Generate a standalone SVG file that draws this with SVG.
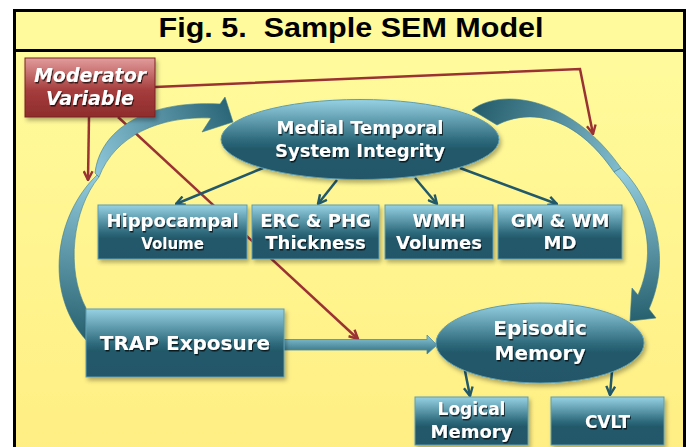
<svg xmlns="http://www.w3.org/2000/svg" width="687" height="447" viewBox="0 0 687 447">
<defs>
<linearGradient id="gBody" x1="0" y1="0" x2="0" y2="1"><stop offset="0" stop-color="#FFFC9F"/><stop offset="1" stop-color="#FFEE82"/></linearGradient>
<linearGradient id="gNode" x1="0" y1="0" x2="0" y2="1"><stop offset="0" stop-color="#96D2E4"/><stop offset="0.5" stop-color="#2F6C7E"/><stop offset="0.62" stop-color="#22596A"/><stop offset="1" stop-color="#215768"/></linearGradient>
<linearGradient id="gRed" x1="0" y1="0" x2="0" y2="1"><stop offset="0" stop-color="#E39C9C"/><stop offset="0.55" stop-color="#A53D3D"/><stop offset="1" stop-color="#8E2C2C"/></linearGradient>
<linearGradient id="gShaft" x1="0" y1="0" x2="0" y2="1"><stop offset="0" stop-color="#8ECBDD"/><stop offset="1" stop-color="#2D6A7C"/></linearGradient>
<linearGradient id="gLL" gradientUnits="userSpaceOnUse" x1="97" y1="175" x2="80" y2="340"><stop offset="0" stop-color="#92CCDD"/><stop offset="1" stop-color="#27606F"/></linearGradient>
<linearGradient id="gLU" gradientUnits="userSpaceOnUse" x1="97" y1="175" x2="230" y2="110"><stop offset="0" stop-color="#8CC6D8"/><stop offset="1" stop-color="#2B6678"/></linearGradient>
<linearGradient id="gRU" gradientUnits="userSpaceOnUse" x1="480" y1="110" x2="620" y2="168"><stop offset="0" stop-color="#28606F"/><stop offset="1" stop-color="#80BBCD"/></linearGradient>
<linearGradient id="gRL" gradientUnits="userSpaceOnUse" x1="620" y1="175" x2="640" y2="320"><stop offset="0" stop-color="#92CCDD"/><stop offset="1" stop-color="#27606F"/></linearGradient>
<filter id="ts" x="-10%" y="-20%" width="120%" height="150%"><feDropShadow dx="1" dy="1.5" stdDeviation="0.6" flood-color="#000" flood-opacity="0.7"/></filter>
<filter id="sh" x="-10%" y="-15%" width="125%" height="140%"><feDropShadow dx="2" dy="3" stdDeviation="2" flood-color="#000" flood-opacity="0.3"/></filter>
<marker id="arR" viewBox="0 0 10 10" refX="9" refY="5" markerWidth="11" markerHeight="11" markerUnits="userSpaceOnUse" orient="auto"><path d="M1,1 L9,5 L1,9" fill="none" stroke="#9A3233" stroke-width="2.2"/></marker>
<marker id="arT" viewBox="0 0 10 10" refX="9" refY="5" markerWidth="11" markerHeight="11" markerUnits="userSpaceOnUse" orient="auto"><path d="M1,1 L9,5 L1,9" fill="none" stroke="#22596A" stroke-width="2.2"/></marker>
</defs>
<style>
.red{fill:none;stroke:#9A3233;stroke-width:2.5;marker-end:url(#arR)}
.teal{fill:none;stroke:#22596A;stroke-width:2.5;marker-end:url(#arT)}
.node{fill:url(#gNode);stroke:#5E9DB1;stroke-width:1;filter:url(#sh)}
.t{font-family:"DejaVu Sans",sans-serif;font-weight:bold;fill:#fff;text-anchor:middle;filter:url(#ts)}
</style>
<rect width="687" height="447" fill="#fff"/>
<rect x="14.5" y="10.5" width="670" height="460" fill="url(#gBody)"/>
<rect x="14.5" y="10.5" width="670" height="40" fill="#FFFB9C"/>
<rect x="14.5" y="10.5" width="670" height="460" fill="none" stroke="#000" stroke-width="3"/>
<line x1="14" y1="50.5" x2="685" y2="50.5" stroke="#000" stroke-width="3"/>
<text x="351" y="37" font-family="'Liberation Sans',Arial,sans-serif" font-weight="bold" font-size="28" text-anchor="middle" textLength="385" lengthAdjust="spacingAndGlyphs" fill="#000">Fig. 5.&#160; Sample SEM Model</text>

<g id="connectors">
<polyline class="red" points="155,87 580,69 593,134"/>
<line class="red" x1="89" y1="117" x2="88" y2="180"/>
<line class="red" x1="118" y1="117" x2="358" y2="339"/>
<line class="teal" x1="263" y1="168" x2="176" y2="204"/>
<line class="teal" x1="337" y1="180" x2="318" y2="204"/>
<line class="teal" x1="415" y1="178" x2="437" y2="204"/>
<line class="teal" x1="460" y1="168" x2="557" y2="204"/>
<line class="teal" x1="465" y1="371" x2="470" y2="396"/>
<line class="teal" x1="612" y1="371" x2="610" y2="395"/>
<path d="M284,339.5 L427,339.5 L427,335 L437,345 L427,354 L427,350 L284,350 Z" fill="url(#gShaft)" stroke="#4F8EA2" stroke-width="0.8"/>
<path d="M97,175 C55,215 43,292 86,340 L86,308 C66,270 72,210 99,177 Z" fill="url(#gLL)" stroke="#3F7E91" stroke-width="0.6"/>
<path d="M95,173 C100,130 145,100 220,104 L225,97 L233,122 L202,132 L211,118 C160,116 115,135 99,177 Z" fill="url(#gLU)" stroke="#3F7E91" stroke-width="0.6"/>
<path d="M472,110 C500,88 570,95 621,168 L614,172 C575,115 530,108 497,125 Z" fill="url(#gRU)" stroke="#3F7E91" stroke-width="0.6"/>
<path d="M621,168 C648,195 675,250 649,309 L656,318 L630,321 L632,288 L638,295 C658,250 645,205 614,172 Z" fill="url(#gRL)" stroke="#3F7E91" stroke-width="0.6"/>
</g>

<g id="moderator">
<rect x="25" y="58" width="130" height="59" fill="url(#gRed)" stroke="#7A2222" stroke-width="1" filter="url(#sh)"/>
<text class="t" x="90" y="82" font-size="19" font-style="italic">Moderator</text>
<text class="t" x="90" y="105" font-size="19" font-style="italic">Variable</text>
</g>
<g id="medial">
<ellipse class="node" cx="360" cy="139.5" rx="139" ry="40"/>
<text class="t" x="360" y="134" font-size="18">Medial Temporal</text>
<text class="t" x="360" y="157" font-size="18">System Integrity</text>
</g>
<g id="hippocampal">
<rect class="node" x="98" y="205" width="149" height="54"/>
<text class="t" x="172.5" y="227" font-size="18">Hippocampal</text>
<text class="t" x="172.5" y="249" font-size="15">Volume</text>
</g>
<g id="erc">
<rect class="node" x="252" y="205" width="127" height="54"/>
<text class="t" x="315.5" y="227" font-size="18">ERC &amp; PHG</text>
<text class="t" x="315.5" y="249" font-size="18">Thickness</text>
</g>
<g id="wmh">
<rect class="node" x="385" y="205" width="108" height="54"/>
<text class="t" x="439" y="227" font-size="18">WMH</text>
<text class="t" x="439" y="249" font-size="18">Volumes</text>
</g>
<g id="gmwm">
<rect class="node" x="498" y="205" width="124" height="54"/>
<text class="t" x="560" y="227" font-size="18">GM &amp; WM</text>
<text class="t" x="560" y="249" font-size="18">MD</text>
</g>
<g id="trap">
<rect class="node" x="86" y="309" width="198" height="68"/>
<text class="t" x="185" y="350" font-size="20">TRAP Exposure</text>
</g>
<g id="episodic">
<ellipse class="node" cx="540" cy="343" rx="104" ry="40"/>
<text class="t" x="540" y="335" font-size="20">Episodic</text>
<text class="t" x="540" y="360" font-size="20">Memory</text>
</g>
<g id="logical">
<rect class="node" x="415" y="397" width="113" height="48"/>
<text class="t" x="471.5" y="415" font-size="17">Logical</text>
<text class="t" x="471.5" y="438" font-size="18">Memory</text>
</g>
<g id="cvlt">
<rect class="node" x="551" y="397" width="113" height="48"/>
<text class="t" x="607.5" y="428" font-size="17">CVLT</text>
</g>
</svg>
